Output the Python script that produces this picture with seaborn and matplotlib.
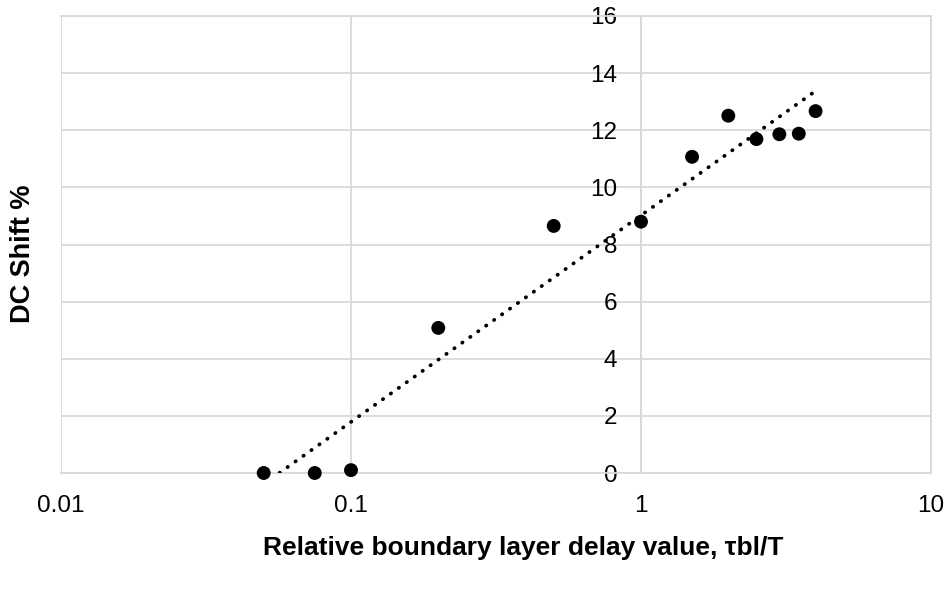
import numpy as np
import pandas as pd
import matplotlib
matplotlib.use("Agg")
import matplotlib.pyplot as plt
import seaborn as sns

# Relative boundary layer delay (tau_bl / T) and measured DC shift (%)
delay_ratio = [0.05, 0.075, 0.1, 0.2, 0.5, 1.0, 1.5, 2.0, 2.5, 3.0, 3.5, 4.0]
dc_shift = [0.0, 0.0, 0.1, 5.08, 8.65, 8.8, 11.07, 12.51, 11.69, 11.86, 11.88, 12.67]

x_ticks = [0.01, 0.1, 1, 10]
x_tick_labels = ["0.01", "0.1", "1", "10"]
y_ticks = [0, 2, 4, 6, 8, 10, 12, 14, 16]

df = pd.DataFrame({"ratio": delay_ratio, "shift": dc_shift})

sns.set_theme(style="white")
plt.rcParams["font.family"] = ["Liberation Sans", "DejaVu Sans"]

grid_color = "#d9d9d9"

fig = plt.figure(figsize=(9.49, 5.89), dpi=100)
ax = fig.add_axes([61 / 949, 1 - 473 / 589, (931 - 61) / 949, (473 - 16) / 589])

ax.set_xscale("log")
ax.set_xlim(0.01, 10)
ax.set_ylim(0, 16)

# logarithmic trendline fitted to the measurements
coef = np.polyfit(np.log10(df["ratio"]), df["shift"], 1)
fit_x = np.logspace(np.log10(min(delay_ratio)), np.log10(max(delay_ratio)), 200)
fit_y = np.polyval(coef, np.log10(fit_x))
ax.plot(fit_x, fit_y, color="black", linestyle=(0, (0.1, 2.5)), linewidth=2.7,
        dash_capstyle="round", zorder=3)

sns.scatterplot(data=df, x="ratio", y="shift", ax=ax, color="black", s=100,
                edgecolor="none", zorder=4, legend=False, clip_on=False)

ax.set_xticks(x_ticks)
ax.set_xticklabels(x_tick_labels)
ax.set_yticks(y_ticks)
ax.xaxis.set_minor_locator(matplotlib.ticker.NullLocator())

ax.grid(True, color=grid_color, linewidth=1.3)
ax.set_axisbelow(True)

# vertical axis crosses at x = 1
ax.spines["left"].set_position(("data", 1))
for side in ["left", "bottom", "top", "right"]:
    ax.spines[side].set_color(grid_color)
    ax.spines[side].set_linewidth(1.3)
    ax.spines[side].set_zorder(1)

ax.tick_params(axis="both", length=0, labelsize=17.5, colors="black")
ax.tick_params(axis="y", pad=17)
ax.tick_params(axis="x", pad=16)

ax.set_xlabel("")
ax.set_ylabel("")
fig.text(523 / 949, 1 - 548 / 589, "Relative boundary layer delay value, \u03c4bl/T",
         ha="center", va="center", fontsize=19, fontweight="bold", color="black")
fig.text(23 / 949, 1 - 254 / 589, "DC Shift %", ha="center", va="center",
         rotation=90, fontsize=19.5, fontweight="bold", color="black")

fig.savefig("out.png", dpi=100)
